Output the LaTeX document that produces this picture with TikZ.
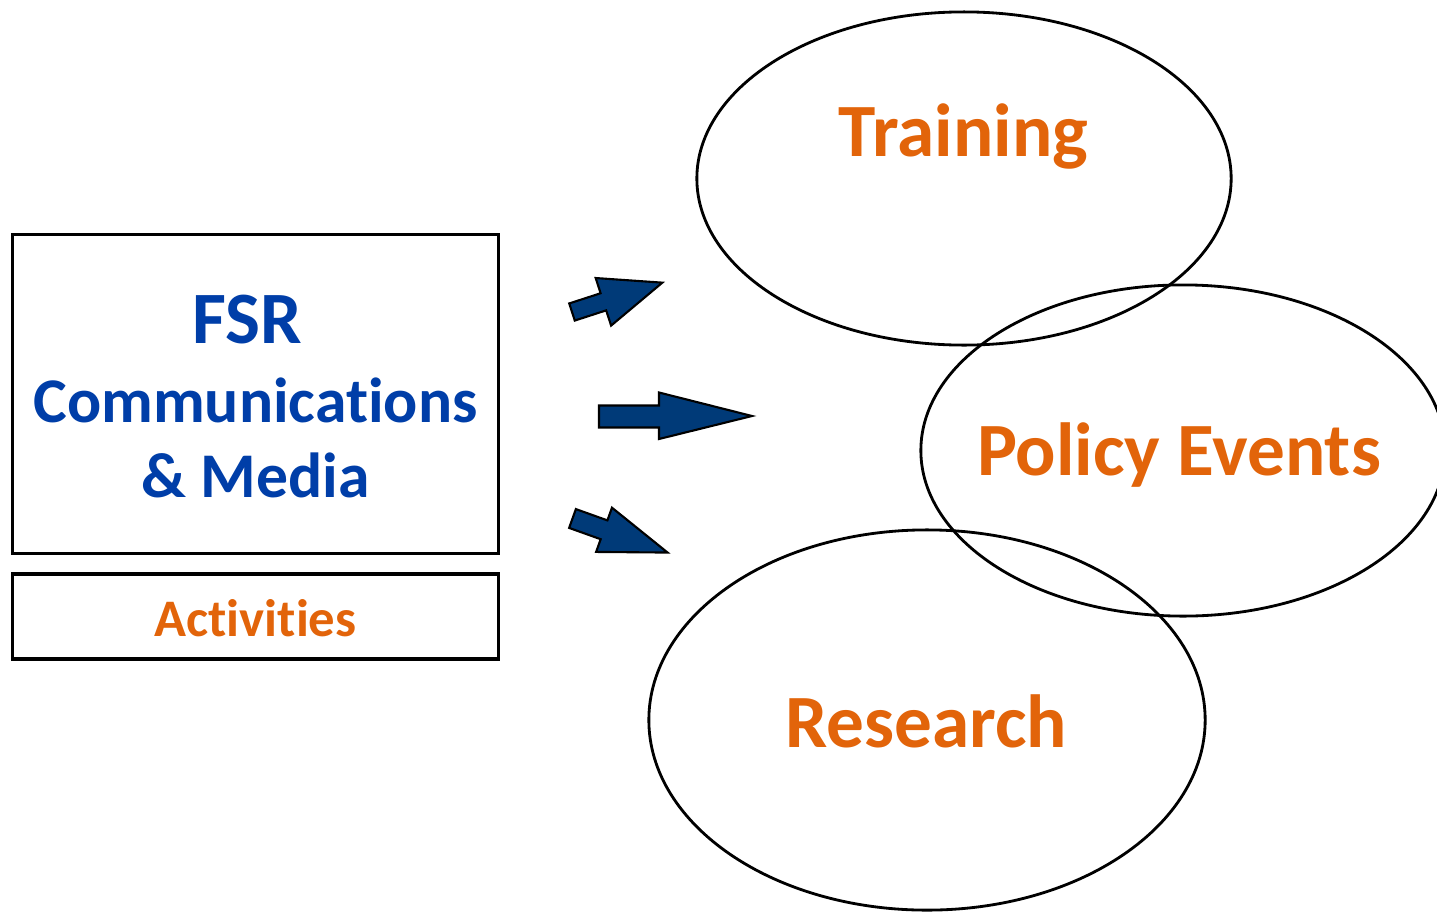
\documentclass[tikz,border=0pt]{standalone}
\usepackage{fontspec}
\setmainfont{Carlito}[Ligatures=NoCommon]
\usepackage{tikz}
\usetikzlibrary{shapes.geometric, positioning}
\definecolor{fsrblue}{RGB}{0,62,168}
\definecolor{fsrorange}{RGB}{226,100,10}
\definecolor{arrowblue}{RGB}{0,58,120}

\begin{document}
\begin{tikzpicture}[x=0.01cm, y=-0.01cm,
    box/.style={draw, line width=0.9pt, rectangle, minimum width=4.85cm},
    area/.style={draw, line width=0.8pt, ellipse},
    bluetxt/.style={fsrblue, font=\bfseries\fontsize{18.1}{22}\selectfont, anchor=base},
    orangetxt/.style={fsrorange, font=\bfseries\fontsize{21.4}{25}\selectfont, anchor=base},
    blockarrow/.style={fill=arrowblue, draw=black, line width=0.6pt, line join=miter}]
  \useasboundingbox (0,0) rectangle (1437,912);

  % left boxes
  \node[box, minimum height=3.18cm] (main) at (255.5,394) {};
  \node[box, minimum height=0.85cm] (actbox) at (255.5,616.5) {};
  \node[bluetxt, font=\bfseries\fontsize{21}{25}\selectfont] (fsr) at (247,343) {FSR};
  \node[bluetxt] (comm) at (255.5,422) {Communications};
  \node[bluetxt] (media) at (255.5,497) {\& Media};
  \node[orangetxt, font=\bfseries\fontsize{15}{18}\selectfont] (act) at (255.5,636) {Activities};

  % the three areas
  \node[area, minimum width=5.34cm, minimum height=3.33cm] (training) at (964,178.5) {};
  \node[area, minimum width=5.24cm, minimum height=3.31cm] (policy) at (1183,450.5) {};
  \node[area, minimum width=5.56cm, minimum height=3.80cm] (research) at (927,720) {};
  \node[orangetxt] (traintxt) at (963.5,156) {Training};
  \node[orangetxt] (policytxt) at (1179,475) {Policy Events};
  \node[orangetxt] (researchtxt) at (926.5,747) {Research};

  % block arrows
  \draw[blockarrow, shift={(572,312)}, rotate=18] (0,-9) -- (33,-9) -- (33,-25) -- (95,0) -- (33,25) -- (33,9) -- (0,9) -- cycle;
  \draw[blockarrow] (599,405.5) -- (659,405.5) -- (659,392.5) -- (752,416) -- (659,439) -- (659,427.5) -- (599,427.5) -- cycle;
  \draw[blockarrow, shift={(572.5,518.5)}, rotate=-19.7] (0,-10) -- (33.5,-10) -- (33.5,-23.5) -- (101,0) -- (33.5,23.5) -- (33.5,10) -- (0,10) -- cycle;
\end{tikzpicture}
\end{document}
